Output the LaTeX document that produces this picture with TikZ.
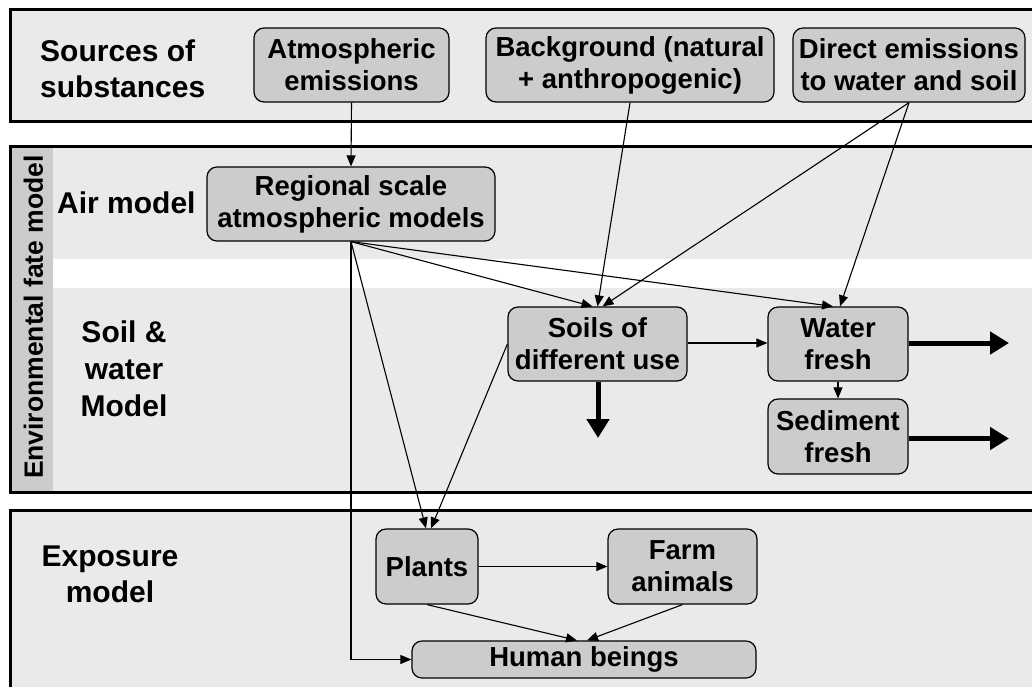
\documentclass[tikz,border=0pt]{standalone}
\usepackage{fontspec}
\setmainfont{Liberation Sans}
\usetikzlibrary{arrows.meta}
\definecolor{panel}{HTML}{EAEAEA}
\definecolor{boxfill}{HTML}{CCCCCC}
\begin{document}
\begin{tikzpicture}[x=1pt,y=-1pt,
  box/.style={draw=black, fill=boxfill, rounded corners=10pt, line width=1.2pt,
    align=center, inner sep=0pt, font=\fontsize{27.5}{32}\selectfont\bfseries},
  head/.style={align=center, inner sep=0pt, font=\fontsize{30}{36}\selectfont\bfseries},
  panelbox/.style={draw=black, fill=panel, line width=3pt},
  arr/.style={line width=1.1pt, -{Triangle[length=11pt,width=9pt]}},
  bigarr/.style={line width=5pt, -{Triangle[length=19pt,width=22pt]}}]
\useasboundingbox (0,0) rectangle (1032,686);
\clip (0,0) rectangle (1032,686);
% panels
\path[panelbox] (10,9) rectangle (1050,121);
\path[panelbox] (10,146) rectangle (1050,492);
\fill[white] (53,259) rectangle (1048,288);
\fill[boxfill] (11.5,147.5) rectangle (53,490.5);
\path[panelbox] (10,510) rectangle (1050,700);
% headings
\node[head, align=left, anchor=west] (hsrc) at (40,69) {Sources of\\substances};
\node[head, anchor=base west] (hair) at (57,213) {Air model};
\node[head, font=\fontsize{30}{37}\selectfont\bfseries] (hsoil) at (124,369) {Soil \&\\water\\Model};
\node[head] (hexp) at (110,574) {Exposure\\model};
\node[rotate=90, inner sep=0pt, font=\fontsize{26.5}{30}\selectfont\bfseries] (henv) at (33.5,317) {Environmental fate model};
% nodes
\node[box, minimum width=195pt, minimum height=74pt] (atm) at (351.5,65) {Atmospheric\\emissions};
\node[box, minimum width=288pt, minimum height=74pt] (bg) at (630,65) {Background (natural\\+ anthropogenic)};
\node[box, minimum width=232pt, minimum height=74pt] (dir) at (909,65) {Direct emissions\\to water and soil};
\node[box, minimum width=288pt, minimum height=74pt] (reg) at (351,204) {Regional scale\\atmospheric models};
\node[box, minimum width=179pt, minimum height=74pt] (soil) at (597.5,344) {Soils of\\different use};
\node[box, minimum width=140pt, minimum height=74pt] (water) at (838,344) {Water\\fresh};
\node[box, minimum width=140pt, minimum height=75pt] (sed) at (838,436.5) {Sediment\\fresh};
\node[box, minimum width=102pt, minimum height=75pt] (plants) at (427,566.5) {Plants};
\node[box, minimum width=149pt, minimum height=75pt] (farm) at (682.5,566.5) {Farm\\animals};
\node[box, minimum width=344pt, minimum height=37pt] (human) at (584,659.5) {Human beings};
\coordinate (soilout) at (598,438);
\coordinate (waterout) at (1009,343);
\coordinate (sedout) at (1009,438.5);
% connectors
\draw[arr] (atm.south) -- (reg.north);
\draw[arr] (bg.south) -- ([xshift=0pt]soil.north);
\draw[arr] (dir.south) -- ([xshift=5pt]soil.north);
\draw[arr] (dir.south) -- ([xshift=2pt]water.north);
\draw[arr] (reg.south) -- ([xshift=-5pt]soil.north);
\draw[arr] (reg.south) -- ([xshift=-5pt]water.north);
\draw[arr] (reg.south) -- ([xshift=-1pt]plants.north);
\draw[arr] (soil.west) -- ([xshift=4pt]plants.north);
\draw[arr] (reg.south) |- (human.west);
\draw[arr] ([yshift=1pt]soil.east) -- ([yshift=1pt]water.west);
\draw[arr] (water.south) -- (sed.north);
\draw[arr] (plants.east) -- (farm.west);
\draw[arr] (plants.south) -- ([xshift=-7pt]human.north);
\draw[arr] (farm.south) -- ([xshift=3pt]human.north);
\draw[bigarr] ([xshift=0.5pt]soil.south) -- (soilout);
\draw[bigarr] ([yshift=1pt]water.east) -- (waterout);
\draw[bigarr] ([yshift=-2pt]sed.east) -- (sedout);
\end{tikzpicture}
\end{document}
